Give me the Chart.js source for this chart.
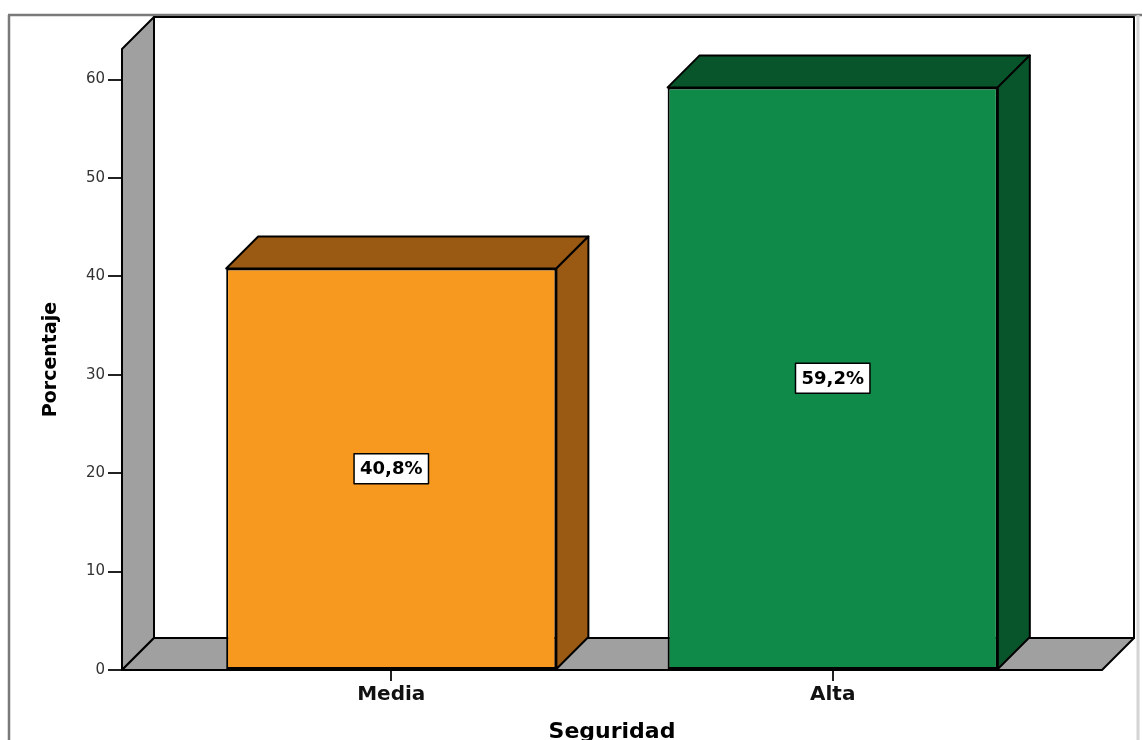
<!DOCTYPE html>
<html lang="es">
<head>
<meta charset="utf-8">
<title>Seguridad</title>
<script src="https://cdn.jsdelivr.net/npm/chart.js@4.4.1/dist/chart.umd.min.js"></script>
<style>
  html, body { margin: 0; padding: 0; background: #fff; }
  #grafica { display: block; }
</style>
</head>
<body>
<canvas id="grafica" width="1142" height="740"></canvas>
<script>
const categorias = ["Media", "Alta"];
const porcentajes = [40.8, 59.2];
const etiquetas = ["40,8%", "59,2%"];
const ticksY = [0, 10, 20, 30, 40, 50, 60];

// estilo tipo SPSS (barras 3D)
const colorFrente = ["#F7991F", "#0F8A48"];
const colorSombra = ["#9A5A13", "#08552C"];
const GRIS = "#A0A0A0";
const PROF = 32; // profundidad del efecto 3D en px
const FUENTE = "'DejaVu Sans', 'Liberation Sans', Arial, sans-serif";

function poligono(ctx, pts, relleno) {
  ctx.beginPath();
  ctx.moveTo(pts[0][0], pts[0][1]);
  pts.slice(1).forEach((p) => ctx.lineTo(p[0], p[1]));
  ctx.closePath();
  ctx.fillStyle = relleno;
  ctx.fill();
  ctx.stroke();
}

const marco = {
  id: "marco",
  beforeDraw(chart) {
    const { ctx, width, height } = chart;
    ctx.save();
    ctx.fillStyle = "#fff";
    ctx.fillRect(0, 0, width, height);
    ctx.strokeStyle = "#7a7a7a";
    ctx.lineWidth = 2.5;
    ctx.beginPath();
    ctx.moveTo(8, 15);
    ctx.lineTo(width, 15);
    ctx.moveTo(9, 15);
    ctx.lineTo(9, height);
    ctx.stroke();
    ctx.strokeStyle = "#d4d4d4";
    ctx.lineWidth = 3;
    ctx.beginPath();
    ctx.moveTo(1138, 15);
    ctx.lineTo(1138, height);
    ctx.stroke();
    ctx.restore();
  },
  beforeDatasetsDraw(chart) {
    const { ctx } = chart;
    const { left, right, top, bottom } = chart.chartArea;
    ctx.save();
    ctx.strokeStyle = "#000";
    ctx.lineWidth = 2;
    ctx.lineJoin = "round";
    // pared del fondo
    poligono(ctx, [[left + PROF, top - PROF], [right + PROF, top - PROF],
      [right + PROF, bottom - PROF], [left + PROF, bottom - PROF]], "#fff");
    // pared izquierda
    poligono(ctx, [[left, bottom], [left, top], [left + PROF, top - PROF],
      [left + PROF, bottom - PROF]], GRIS);
    // piso
    poligono(ctx, [[left, bottom], [right, bottom], [right + PROF, bottom - PROF],
      [left + PROF, bottom - PROF]], GRIS);
    ctx.restore();
  },
  afterDatasetsDraw(chart) {
    const { ctx } = chart;
    const meta = chart.getDatasetMeta(0);
    ctx.save();
    ctx.strokeStyle = "#000";
    ctx.lineWidth = 2;
    ctx.lineJoin = "round";
    meta.data.forEach((bar, i) => {
      const { x, y, base, width } = bar.getProps(["x", "y", "base", "width"], true);
      const l = x - width / 2;
      const r = x + width / 2;
      poligono(ctx, [[l, y], [l + PROF, y - PROF], [r + PROF, y - PROF], [r, y]], colorSombra[i]);
      poligono(ctx, [[r, y], [r + PROF, y - PROF], [r + PROF, base - PROF], [r, base]], colorSombra[i]);
    });

    ctx.font = "bold 18px " + FUENTE;
    ctx.textAlign = "center";
    ctx.textBaseline = "middle";
    ctx.lineWidth = 1.5;
    meta.data.forEach((bar, i) => {
      const { x, y, base } = bar.getProps(["x", "y", "base"], true);
      const cy = (y + base) / 2;
      const w = ctx.measureText(etiquetas[i]).width + 12;
      const h = 30;
      ctx.fillStyle = "#fff";
      ctx.fillRect(x - w / 2, cy - h / 2, w, h);
      ctx.strokeRect(x - w / 2, cy - h / 2, w, h);
      ctx.fillStyle = "#000";
      ctx.fillText(etiquetas[i], x, cy + 1);
    });
    ctx.restore();
  },
};

new Chart(document.getElementById("grafica"), {
  type: "bar",
  data: {
    datasets: [{
      label: "Porcentaje",
      data: categorias.map((c, i) => ({ x: i, y: porcentajes[i] })),
      backgroundColor: colorFrente,
      borderColor: "#000",
      borderWidth: 2,
      borderSkipped: false,
      barPercentage: 1,
      categoryPercentage: 0.748,
    }],
  },
  options: {
    responsive: false,
    animation: false,
    events: [],
    layout: { padding: { left: 0, top: 49, right: 40, bottom: 0 } },
    plugins: { legend: { display: false }, tooltip: { enabled: false } },
    scales: {
      x: {
        type: "linear",
        min: -0.61,
        max: 1.61,
        offset: false,
        afterBuildTicks: (scale) => { scale.ticks = categorias.map((c, i) => ({ value: i })); },
        afterFit: (scale) => { scale.height = 70; },
        border: { display: false },
        grid: { offset: false, drawOnChartArea: false, drawTicks: true, tickLength: 11, color: "#222", lineWidth: 2 },
        ticks: {
          autoSkip: false,
          padding: 2,
          color: "#111",
          font: { family: FUENTE, size: 20, weight: "bold" },
          callback: (v) => categorias[v] ?? "",
        },
        title: {
          display: true,
          text: "Seguridad",
          color: "#000",
          font: { family: FUENTE, size: 22, weight: "bold", lineHeight: 1 },
          padding: { top: 0, bottom: -3 },
        },
      },
      y: {
        min: 0,
        max: 63.1,
        afterBuildTicks: (scale) => { scale.ticks = ticksY.map((v) => ({ value: v })); },
        afterFit: (scale) => { scale.width = 122; },
        border: { display: false },
        grid: { drawOnChartArea: false, drawTicks: true, tickLength: 14, color: "#222", lineWidth: 2 },
        ticks: {
          padding: 3,
          color: "#333",
          font: { family: FUENTE, size: 15 },
        },
        title: {
          display: true,
          text: "Porcentaje",
          color: "#000",
          font: { family: FUENTE, size: 19, weight: "bold", lineHeight: 1 },
          padding: { top: 42, bottom: 0 },
        },
      },
    },
  },
  plugins: [marco],
});
</script>
</body>
</html>
